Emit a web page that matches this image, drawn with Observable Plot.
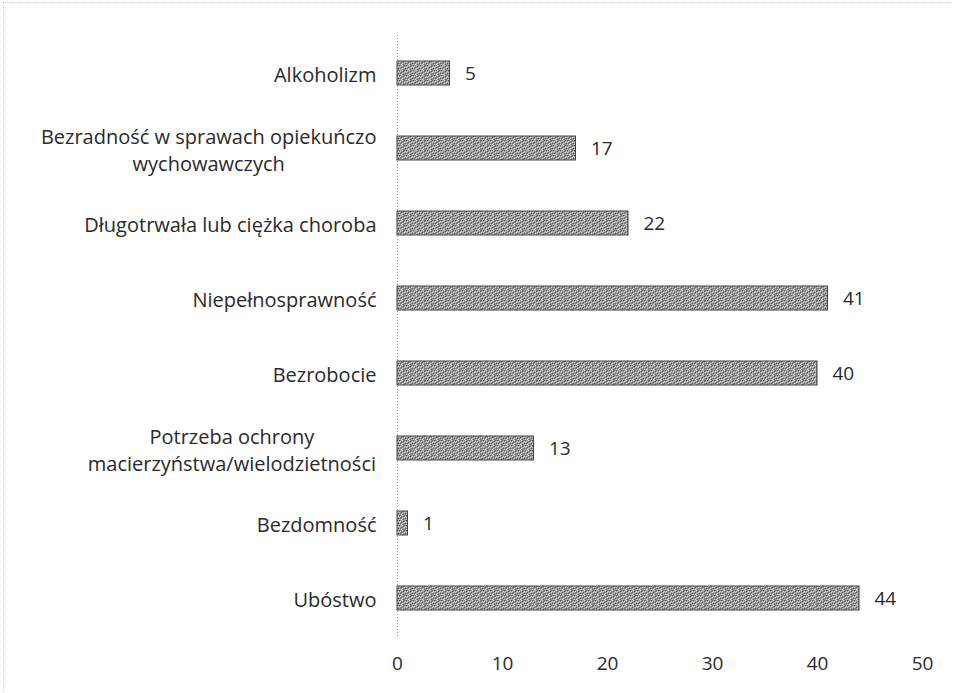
<!DOCTYPE html>
<html>
<head>
<meta charset="utf-8">
<script src="https://cdn.jsdelivr.net/npm/d3@7"></script>
<script src="https://cdn.jsdelivr.net/npm/@observablehq/plot@0.6"></script>
<style>
  html, body { margin: 0; padding: 0; background: #fff; }
  #wrap { position: relative; width: 953px; height: 693px; }
  #border { position: absolute; left: 3px; top: 2px; right: -5px; bottom: -5px;
            border-top: 1px dotted #c8c8c8; border-left: 1px dotted #c8c8c8; pointer-events: none; }
</style>
</head>
<body>
<div id="wrap"><div id="border"></div></div>
<script>
const categories = [
  "Alkoholizm",
  "Bezradność w sprawach opiekuńczo\nwychowawczych",
  "Długotrwała lub ciężka choroba",
  "Niepełnosprawność",
  "Bezrobocie",
  "Potrzeba ochrony\nmacierzyństwa/wielodzietności",
  "Bezdomność",
  "Ubóstwo"
];
const values = [5, 17, 22, 41, 40, 13, 1, 44];
const xTicks = [0, 10, 20, 30, 40, 50];

const data = categories.map((c, i) => ({category: c, value: values[i]}));

const font = "'Open Sans', 'Noto Sans', sans-serif";
const chart = Plot.plot({
  width: 953,
  height: 693,
  marginLeft: 397,
  marginRight: 31,
  marginTop: 35,
  marginBottom: 57,
  style: {fontFamily: font, fontSize: "19px", color: "#2a2a2a", background: "transparent"},
  x: {domain: [0, 50], ticks: xTicks},
  y: {domain: categories, paddingInner: 0.68, paddingOuter: 0.34},
  marks: [
    Plot.ruleX([0], {stroke: "#999", strokeDasharray: "1,2", strokeWidth: 1}),
    Plot.barX(data, {x: "value", y: "category", fill: "url(#dither)", stroke: "#444", strokeWidth: 1}),
    Plot.text(data, {x: "value", y: "category", text: d => String(d.value), textAnchor: "start", dx: 15, fontSize: 19, fill: "#2a2a2a"}),
    Plot.axisX({ticks: xTicks, tickSize: 0, tickPadding: 20, fontSize: 19, label: null, fill: "#2a2a2a"}),
    Plot.axisY({tickSize: 0, tickPadding: 21, fontSize: 20, label: null, fill: "#2a2a2a", lineHeight: 1.35})
  ]
});

// irregular dithered grey pattern for the bars (scan-like texture)
const ns = "http://www.w3.org/2000/svg";
const defs = document.createElementNS(ns, "defs");
const dots = [
  [0,0,"#505050"],[3,0,"#e0e0e0"],[5,0,"#6a6a6a"],
  [1,1,"#d8d8d8"],[4,1,"#555"],[6,1,"#c8c8c8"],
  [2,2,"#5e5e5e"],[5,2,"#dcdcdc"],[0,2,"#c0c0c0"],
  [3,3,"#d4d4d4"],[6,3,"#585858"],[1,3,"#707070"],
  [0,4,"#d0d0d0"],[4,4,"#626262"],[2,4,"#e4e4e4"]
];
defs.innerHTML = `<pattern id="dither" width="7" height="5" patternUnits="userSpaceOnUse">
  <rect width="7" height="5" fill="#979797"/>
  ${dots.map(([x, y, c]) => `<rect x="${x}" y="${y}" width="1" height="1" fill="${c}"/>`).join("")}
</pattern>`;
chart.insertBefore(defs, chart.firstChild);

document.getElementById("wrap").appendChild(chart);

// centre multi-line category labels on their longest line, keeping right edge aligned
chart.querySelectorAll("[aria-label='y-axis tick label'] text").forEach(t => {
  const spans = t.querySelectorAll("tspan");
  if (spans.length > 1) {
    const w = t.getBBox().width;
    t.setAttribute("text-anchor", "middle");
    spans.forEach(s => s.setAttribute("x", String(-w / 2)));
  }
});
</script>
</body>
</html>
